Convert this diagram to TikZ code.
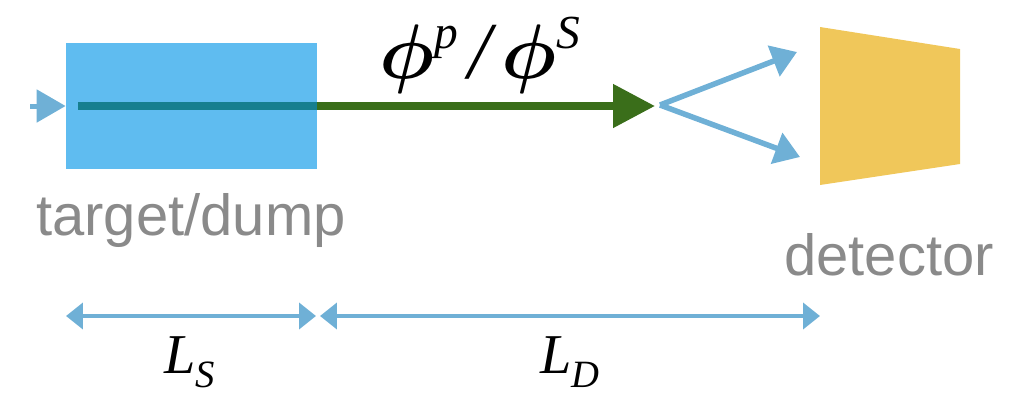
\documentclass[tikz,border=0pt]{standalone}
\usepackage{graphicx}
\usepackage{fontspec}
\setmainfont{Liberation Sans}
\newfontfamily\symserif{Liberation Serif}
\usetikzlibrary{arrows.meta, positioning}

\definecolor{beamblue}{HTML}{5FBCF0}
\definecolor{arrowblue}{HTML}{6FB0D6}
\definecolor{fluxgreen}{HTML}{3A6E1A}
\definecolor{tealline}{HTML}{167F8F}
\definecolor{detyellow}{HTML}{F0C75A}
\definecolor{labelgray}{HTML}{8A8A8A}

\newcommand{\bigphi}{\scalebox{4.4}{\boldmath$\phi$}}
\newcommand{\supsym}[1]{\raisebox{17pt}{\fontsize{27}{30}\selectfont #1}}

\begin{document}
\begin{tikzpicture}[
    x=0.02cm, y=-0.02cm,
    target/.style={rectangle, fill=beamblue, minimum width=5.02cm, minimum height=2.52cm, inner sep=0pt},
    lbl/.style={text=labelgray, font=\fontsize{33}{36}\selectfont, inner sep=0pt, anchor=base},
    sym/.style={font=\symserif\itshape, inner sep=0pt, anchor=base},
    flux/.style={-{Triangle[length=0.84cm, width=0.84cm]}, line width=0.16cm, fluxgreen},
    decay/.style={-{Triangle[length=0.5cm, width=0.64cm]}, line width=0.11cm, arrowblue},
    dim/.style={{Triangle[length=0.34cm, width=0.52cm]}-{Triangle[length=0.34cm, width=0.52cm]}, line width=0.08cm, arrowblue}
]
\useasboundingbox (0,0) rectangle (1012,393);

% target and detector
\node[target] (tgt) at (191.5,106) {};
\fill[detyellow] (820,27) coordinate (det1) -- (960,49) coordinate (det2)
    -- (960,164) coordinate (det3) -- (820,185) coordinate (det4) -- cycle;

% beam line
\coordinate (beamin) at (30,106);
\coordinate (src) at (78,106);
\coordinate (fluxend) at (655,106);
\coordinate (vtx) at (660,105);
\coordinate (up) at (797,52);
\coordinate (down) at (800,157);

\draw[-{Triangle[length=0.58cm, width=0.64cm]}, line width=0.1cm, arrowblue] (beamin) -- (tgt.west);
\draw[line width=0.16cm, tealline] (src) -- (tgt.east);
\draw[flux] (tgt.east) -- (fluxend);
\draw[decay] (vtx) -- (up);
\draw[decay] (vtx) -- (down);

% labels
\node[lbl] (tgtlabel) at (191,235) {target/dump};
\node[lbl] (detlabel) at (889,275) {detector};
\node[sym] (fluxlabel) at (480,78) {\bigphi\supsym{p}\hspace{6pt}{\fontsize{46}{50}\selectfont /}\hspace{6pt}\bigphi\supsym{S}};

% distances
\coordinate (ls0) at (66,316);
\coordinate (ls1) at (316,316);
\coordinate (ld0) at (320,316);
\coordinate (ld1) at (820,316);
\draw[dim] (ls0) -- (ls1);
\draw[dim] (ld0) -- (ld1);
\node[sym] (lslabel) at (190,373) {\fontsize{32}{36}\selectfont L\raisebox{-0.25em}{\fontsize{22}{24}\selectfont S}};
\node[sym] (ldlabel) at (570,373) {\fontsize{32}{36}\selectfont L\raisebox{-0.25em}{\fontsize{22}{24}\selectfont D}};

\end{tikzpicture}
\end{document}
